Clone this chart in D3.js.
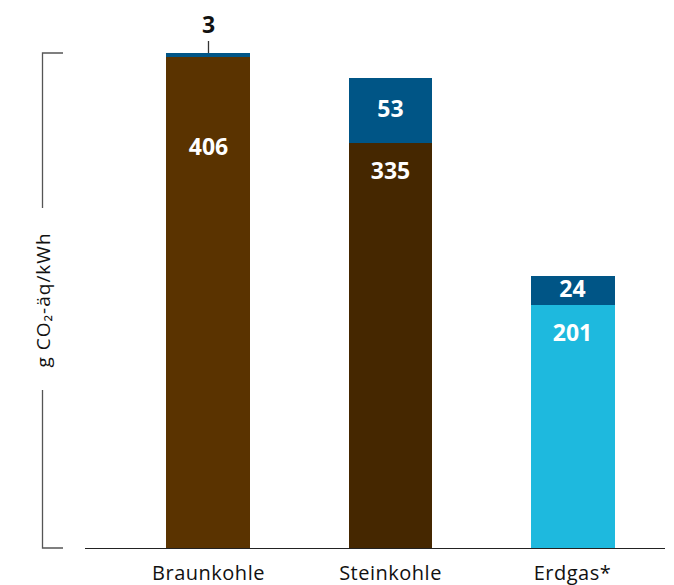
<!DOCTYPE html>
<html><head><meta charset="utf-8">
<script src="https://cdn.jsdelivr.net/npm/d3@7"></script>
<style>body{margin:0;background:#fff}svg{display:block}</style>
</head><body>
<svg id="c" width="674" height="585"></svg>
<script>
const categories = ["Braunkohle", "Steinkohle", "Erdgas*"];
const directValues = [406, 335, 201];
const upstreamValues = [3, 53, 24];
const yLabel = "g CO₂-äq/kWh";

const baseColors = ["#5a3300", "#452700", "#1eb9de"];
const upColor = "#005586";

const svg = d3.select("#c");
const font = "'Open Sans', 'Noto Sans', sans-serif";

const x = d3.scaleBand().domain(categories).range([117.5, 663.5])
  .paddingInner(0.5385).paddingOuter(0.2692);
const y = d3.scaleLinear().domain([0, 409]).range([548, 53]);

// baseline axis
const xAxis = d3.axisBottom(x).tickSize(0).tickPadding(18);
const gx = svg.append("g").attr("transform", "translate(0,548)").call(xAxis);
gx.select(".domain").remove();
gx.selectAll("text").attr("font-family", font).attr("font-size", 20)
  .attr("letter-spacing", 0.5).attr("fill", "#111");
svg.append("line").attr("x1", 85).attr("x2", 665).attr("y1", 548.5).attr("y2", 548.5)
  .attr("stroke", "#222").attr("stroke-width", 1.2);

// left bracket
const br = svg.append("g").attr("stroke", "#555").attr("stroke-width", 1.3).attr("fill", "none");
br.append("path").attr("d", `M63,${y(409)}H42.5V208`);
br.append("path").attr("d", `M42.5,390V${y(0)}H63`);
svg.append("text").attr("transform", "translate(50,300) rotate(-90)")
  .attr("text-anchor", "middle").attr("font-family", font).attr("font-size", 19)
  .attr("letter-spacing", 1).attr("fill", "#111")
  .text(yLabel);

const data = categories.map((c, i) => ({c, d: directValues[i], u: upstreamValues[i], i}));

// bars
svg.selectAll("rect.base").data(data).join("rect").attr("class", "base")
  .attr("x", d => x(d.c)).attr("width", x.bandwidth())
  .attr("y", d => y(d.d)).attr("height", d => y(0) - y(d.d))
  .attr("shape-rendering", "crispEdges")
  .attr("fill", d => baseColors[d.i]);
svg.selectAll("rect.up").data(data).join("rect").attr("class", "up")
  .attr("x", d => x(d.c)).attr("width", x.bandwidth())
  .attr("y", d => y(d.d + d.u)).attr("height", d => y(d.d) - y(d.d + d.u) + 0.5)
  .attr("shape-rendering", "crispEdges")
  .attr("fill", upColor);

const cx = d => x(d.c) + x.bandwidth() / 2;

// base labels
svg.selectAll("text.bl").data(data).join("text").attr("class", "bl")
  .attr("x", cx)
  .attr("y", d => (d.i === 0 ? y(d.d) + 90 : y(d.d) + 28) + 8)
  .attr("text-anchor", "middle").attr("font-family", font).attr("font-weight", 700)
  .attr("font-size", 23).attr("fill", "#fff").text(d => d.d);

// upstream labels
data.forEach(d => {
  const h = y(d.d) - y(d.d + d.u);
  if (h > 20) {
    svg.append("text").attr("x", cx(d)).attr("y", (y(d.d) + y(d.d + d.u)) / 2 + 7)
      .attr("text-anchor", "middle").attr("font-family", font).attr("font-weight", 700)
      .attr("font-size", 23).attr("fill", "#fff").text(d.u);
  } else {
    const top = y(d.d + d.u);
    svg.append("line").attr("x1", cx(d)).attr("x2", cx(d)).attr("y1", top - 12).attr("y2", top)
      .attr("stroke", "#333").attr("stroke-width", 1.3);
    svg.append("text").attr("x", cx(d)).attr("y", top - 20)
      .attr("text-anchor", "middle").attr("font-family", font).attr("font-weight", 700)
      .attr("font-size", 23).attr("fill", "#111").text(d.u);
  }
});
</script>
</body></html>
